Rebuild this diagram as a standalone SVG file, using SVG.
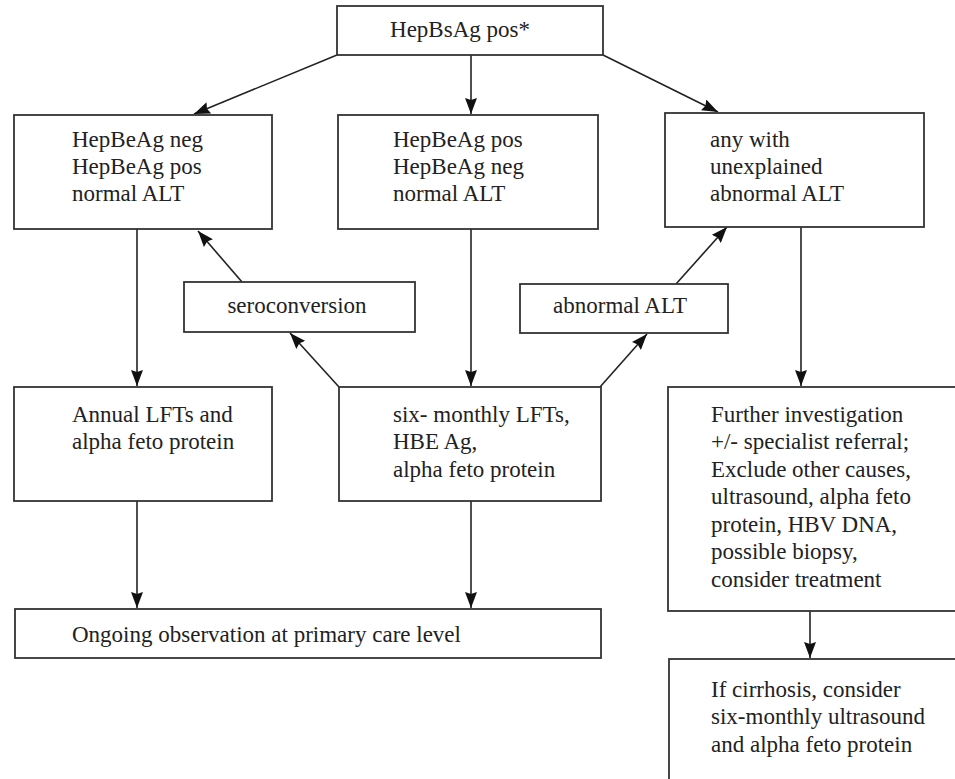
<svg xmlns="http://www.w3.org/2000/svg" width="955" height="779" viewBox="0 0 955 779">
<style>
.box{fill:#fff;stroke:#333;stroke-width:1.8}
.t{font-family:"Liberation Serif","DejaVu Serif",serif;font-size:23px;fill:#222}
.c{text-anchor:middle}
.ln{stroke:#222;stroke-width:1.6;fill:none;marker-end:url(#ah)}
</style>
<defs>
<marker id="ah" markerUnits="userSpaceOnUse" markerWidth="17" markerHeight="12" refX="16" refY="6" orient="auto">
<path d="M0,0 L16,6 L0,12 L2,6 z" fill="#111"/>
</marker>
</defs>
<rect width="955" height="779" fill="#fff"/>
<g id="connectors">
<line class="ln" x1="337" y1="55" x2="194" y2="114"/>
<line class="ln" x1="471" y1="55" x2="471" y2="114"/>
<line class="ln" x1="603" y1="55" x2="718" y2="112"/>
<line class="ln" x1="242" y1="282" x2="198" y2="231"/>
<line class="ln" x1="676" y1="284" x2="727" y2="227"/>
<line class="ln" x1="137" y1="229" x2="137" y2="386"/>
<line class="ln" x1="471" y1="229" x2="471" y2="386"/>
<line class="ln" x1="801" y1="227" x2="801" y2="386"/>
<line class="ln" x1="339" y1="387" x2="290" y2="333"/>
<line class="ln" x1="600" y1="387" x2="647" y2="334"/>
<line class="ln" x1="137" y1="501" x2="137" y2="608"/>
<line class="ln" x1="471" y1="501" x2="471" y2="608"/>
<line class="ln" x1="810" y1="611" x2="810" y2="658"/>
</g>
<g id="n-top">
<rect class="box" x="337" y="6" width="266" height="49"/>
<text class="t c" x="460" y="37">HepBsAg pos*</text>
</g>
<g id="n-left">
<rect class="box" x="14" y="115" width="258" height="114"/>
<text class="t" x="72" y="147">HepBeAg neg</text>
<text class="t" x="72" y="174">HepBeAg pos</text>
<text class="t" x="72" y="201">normal ALT</text>
</g>
<g id="n-mid">
<rect class="box" x="338" y="115" width="260" height="114"/>
<text class="t" x="393" y="147">HepBeAg pos</text>
<text class="t" x="393" y="174">HepBeAg neg</text>
<text class="t" x="393" y="201">normal ALT</text>
</g>
<g id="n-right">
<rect class="box" x="665" y="113" width="259" height="114"/>
<text class="t" x="710" y="147">any with</text>
<text class="t" x="710" y="174">unexplained</text>
<text class="t" x="710" y="201">abnormal ALT</text>
</g>
<g id="n-sero">
<rect class="box" x="184" y="282" width="231" height="50"/>
<text class="t c" x="297" y="313">seroconversion</text>
</g>
<g id="n-abn">
<rect class="box" x="520" y="284" width="208" height="49"/>
<text class="t c" x="620" y="313">abnormal ALT</text>
</g>
<g id="n-annual">
<rect class="box" x="14" y="387" width="258" height="114"/>
<text class="t" x="72" y="422">Annual LFTs and</text>
<text class="t" x="72" y="449">alpha feto protein</text>
</g>
<g id="n-six">
<rect class="box" x="339" y="387" width="262" height="114"/>
<text class="t" x="393" y="422">six- monthly LFTs,</text>
<text class="t" x="393" y="449">HBE Ag,</text>
<text class="t" x="393" y="477">alpha feto protein</text>
</g>
<g id="n-further">
<rect class="box" x="668" y="387" width="320" height="224"/>
<text class="t" x="711" y="422">Further investigation</text>
<text class="t" x="711" y="449">+/- specialist referral;</text>
<text class="t" x="711" y="477">Exclude other causes,</text>
<text class="t" x="711" y="504">ultrasound, alpha feto</text>
<text class="t" x="711" y="532">protein, HBV DNA,</text>
<text class="t" x="711" y="559">possible biopsy,</text>
<text class="t" x="711" y="587">consider treatment</text>
</g>
<g id="n-ongoing">
<rect class="box" x="15" y="609" width="586" height="49"/>
<text class="t" x="72" y="642">Ongoing observation at primary care level</text>
</g>
<g id="n-cirrhosis">
<rect class="box" x="669" y="659" width="320" height="140"/>
<text class="t" x="711" y="697">If cirrhosis, consider</text>
<text class="t" x="711" y="724">six-monthly ultrasound</text>
<text class="t" x="711" y="752">and alpha feto protein</text>
</g>
</svg>
